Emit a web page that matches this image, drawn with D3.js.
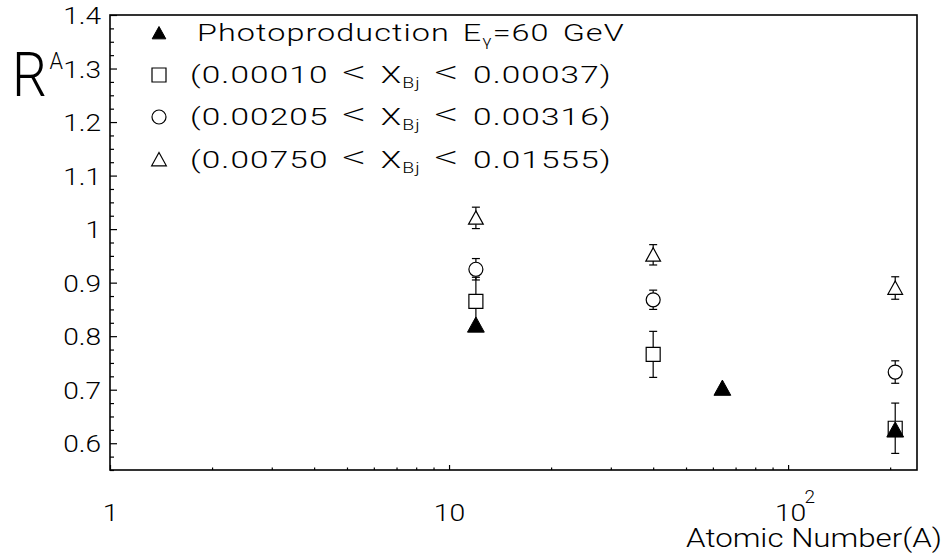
<!DOCTYPE html>
<html>
<head>
<meta charset="utf-8">
<script src="https://cdn.jsdelivr.net/npm/d3@7"></script>
<style>
  body { margin: 0; background: #fff; }
  text { font-family: Roboto, "Open Sans", sans-serif; font-weight: 300; fill: #000; }
</style>
</head>
<body>
<svg id="chart" width="947" height="557"></svg>
<script>
// Nuclear ratio R^A versus atomic number
const disA = [12, 40, 207];
const photoA = [12, 64, 207];
const photoR = [0.821, 0.703, 0.625];

const lowXR = [0.865, 0.766, 0.628];
const lowXErr = [0.045, 0.043, 0.047];
const midXR = [0.925, 0.868, 0.733];
const midXErr = [0.020, 0.018, 0.021];
const highXR = [1.021, 0.952, 0.890];
const highXErr = [0.020, 0.019, 0.021];

const yMajorTicks = [0.6, 0.7, 0.8, 0.9, 1.0, 1.1, 1.2, 1.3, 1.4];
const xMajorTicks = [1, 10, 100];
const xMinorTicks = [2, 3, 4, 5, 6, 7, 8, 9, 20, 30, 40, 50, 60, 70, 80, 90, 200];

// legend text pieces: "n" normal, "sub" subscript, "op" relation sign
const legendRows = [
  { marker: "triFilled", parts: [["Photoproduction E", "n"], ["γ", "sub"], ["=60 GeV", "n"]] },
  { marker: "square", parts: [["(0.00010 ", "n"], ["<", "op"], [" X", "n"], ["Bj", "sub"], [" ", "n"], ["<", "op"], [" 0.00037)", "n"]] },
  { marker: "circle", parts: [["(0.00205 ", "n"], ["<", "op"], [" X", "n"], ["Bj", "sub"], [" ", "n"], ["<", "op"], [" 0.00316)", "n"]] },
  { marker: "triOpen", parts: [["(0.00750 ", "n"], ["<", "op"], [" X", "n"], ["Bj", "sub"], [" ", "n"], ["<", "op"], [" 0.01555)", "n"]] }
];

const frame = { left: 110, top: 15, right: 917, bottom: 470 };
const svg = d3.select("#chart");

const x = d3.scaleLog().domain([1, 240]).range([frame.left, frame.right]);
const y = d3.scaleLinear().domain([0.55, 1.4]).range([frame.bottom, frame.top]);

// widen a text horizontally about its anchor x (the plotter font is broad)
function widen(sel, factor) {
  sel.each(function () {
    const t = d3.select(this);
    const ax = +t.attr("x") || 0;
    t.attr("transform", `translate(${ax * (1 - factor)},0) scale(${factor},1)`);
  });
}
function widenTo(sel, width) {
  const w = sel.node().getBBox().width;
  widen(sel, width / w);
}

// minor y ticks every 0.025
const yMinorTicks = d3.range(0, 35).map(i => +(0.55 + i * 0.025).toFixed(3))
  .filter(v => v <= 1.4 && !yMajorTicks.some(m => Math.abs(m - v) < 1e-6));

// y axis (ticks point into the frame)
const gy = svg.append("g").attr("transform", `translate(${frame.left},0)`);
gy.call(d3.axisLeft(y).tickValues(yMajorTicks).tickSize(-7).tickPadding(9)
  .tickFormat(d => d === 1 ? "1" : d3.format(".1f")(d)));
gy.append("g").call(d3.axisLeft(y).tickValues(yMinorTicks).tickSize(-4).tickFormat(""));
gy.selectAll(".domain").remove();
gy.selectAll("line").attr("stroke", "#000").attr("stroke-width", 1.2);
gy.selectAll(".tick text").attr("font-size", 24).attr("dy", "0.36em")
  .style("font-family", null).attr("fill", "#000");
widen(gy.selectAll(".tick text"), 1.17);

// x axis (log, ticks inside)
const gx = svg.append("g").attr("transform", `translate(0,${frame.bottom})`);
gx.call(d3.axisBottom(x).tickValues(xMajorTicks).tickSize(-5).tickPadding(0)
  .tickFormat(d => d === 100 ? "10" : String(d)));
gx.append("g").call(d3.axisBottom(x).tickValues(xMinorTicks).tickSize(-2.5).tickFormat(""));
gx.selectAll(".domain").remove();
gx.selectAll("line").attr("stroke", "#000").attr("stroke-width", 1.2);
gx.selectAll(".tick text").attr("font-size", 24).attr("y", 51).attr("dy", 0)
  .style("font-family", null).attr("fill", "#000");
widen(gx.selectAll(".tick text"), 1.18);
gx.selectAll(".tick").filter(d => d === 100).each(function () {
  const t = d3.select(this);
  t.select("text").attr("x", 2).attr("transform", null);
  widen(t.select("text"), 1.18);
  t.append("text").attr("x", 16).attr("y", 33).attr("font-size", 19)
    .attr("text-anchor", "start").attr("fill", "#000").text("2");
});

// frame
svg.append("rect")
  .attr("x", frame.left).attr("y", frame.top)
  .attr("width", frame.right - frame.left).attr("height", frame.bottom - frame.top)
  .attr("fill", "none").attr("stroke", "#000").attr("stroke-width", 1.6);

// axis titles
const xt = svg.append("text").attr("x", 942).attr("y", 547).attr("text-anchor", "end")
  .attr("font-size", 25).text("Atomic Number(A)");
widenTo(xt, 256);
const yl = svg.append("text").attr("x", 12).attr("y", 96).attr("font-size", 61);
yl.append("tspan").text("R");
yl.append("tspan").attr("font-size", 24).attr("dx", 3).attr("dy", -27).text("A");
widen(yl, 0.9);

// marker shapes
function markerPath(type, s) {
  if (type === "triFilled" || type === "triOpen") {
    return `M0,${-s}L${s * 1.05},${s * 0.9}L${-s * 1.05},${s * 0.9}Z`;
  }
  if (type === "square") return `M${-s},${-s}H${s}V${s}H${-s}Z`;
  return null;
}
function drawMarker(g, type, cx, cy, s) {
  if (type === "circle") {
    g.append("circle").attr("cx", cx).attr("cy", cy).attr("r", s)
      .attr("fill", "#fff").attr("stroke", "#000").attr("stroke-width", 1.2);
  } else {
    g.append("path").attr("d", markerPath(type, s))
      .attr("transform", `translate(${cx},${cy})`)
      .attr("fill", type === "triFilled" ? "#000" : "#fff")
      .attr("stroke", "#000").attr("stroke-width", type === "triFilled" ? 1 : 1.2)
      .attr("stroke-linejoin", "miter");
  }
}

// error bars for DIS series
const disSeries = [
  { type: "square", vals: lowXR, errs: lowXErr },
  { type: "circle", vals: midXR, errs: midXErr },
  { type: "triOpen", vals: highXR, errs: highXErr }
];
const gErr = svg.append("g").attr("stroke", "#000").attr("stroke-width", 1.2);
disSeries.forEach(s => {
  disA.forEach((a, i) => {
    const cx = x(a), lo = y(s.vals[i] - s.errs[i]), hi = y(s.vals[i] + s.errs[i]);
    gErr.append("line").attr("x1", cx).attr("x2", cx).attr("y1", lo).attr("y2", hi);
    gErr.append("line").attr("x1", cx - 4).attr("x2", cx + 4).attr("y1", lo).attr("y2", lo);
    gErr.append("line").attr("x1", cx - 4).attr("x2", cx + 4).attr("y1", hi).attr("y2", hi);
  });
});

// open markers, then photoproduction points on top
const gPts = svg.append("g");
disSeries.forEach(s => {
  disA.forEach((a, i) => drawMarker(gPts, s.type, x(a), y(s.vals[i]), 7));
});
photoA.forEach((a, i) => drawMarker(gPts, "triFilled", x(a), y(photoR[i]), 8));

// legend
const legendY = [33, 75, 117, 159.5];
const gLeg = svg.append("g");
legendRows.forEach((row, i) => {
  const cy = legendY[i];
  drawMarker(gLeg, row.marker, 159, cy, row.marker === "triFilled" ? 6.5 : 7);
  const x0 = i === 0 ? 197 : 190;
  const t = gLeg.append("text").attr("x", x0).attr("y", cy + 8.5).attr("font-size", 24)
    .style("letter-spacing", "0.8px").style("word-spacing", "3px");
  let shifted = false;
  row.parts.forEach(([str, kind]) => {
    const ts = t.append("tspan").text(str);
    if (kind === "sub") { ts.attr("font-size", 14).attr("dy", 5); shifted = true; }
    else {
      if (shifted) { ts.attr("dy", -5); shifted = false; }
      if (kind === "op") ts.attr("font-size", 34).attr("font-weight", 200);
    }
  });
  widenTo(t, i === 0 ? 428 : 422);
});
</script>
</body>
</html>
